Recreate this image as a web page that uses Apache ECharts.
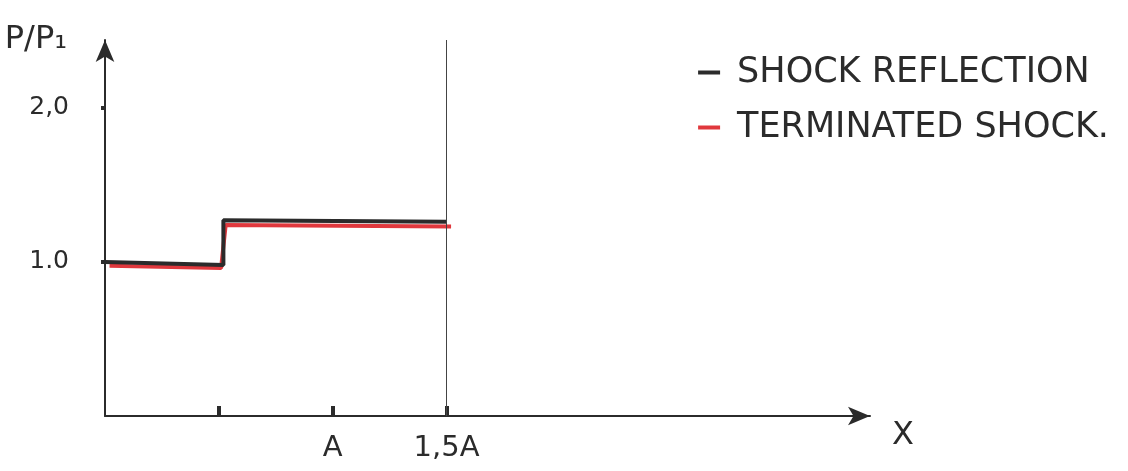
<!DOCTYPE html>
<html>
<head>
<meta charset="utf-8">
<script src="https://cdn.jsdelivr.net/npm/echarts@6/dist/echarts.min.js"></script>
<style>
html,body{margin:0;padding:0;background:#fff;}
#chart{width:1128px;height:471px;}
</style>
</head>
<body>
<div id="chart"></div>
<script>
// sketch values, x in units of A, y in P/P1
var seriesNames = ['SHOCK REFLECTION', 'TERMINATED SHOCK.'];
var reflX = [0, 0.52, 0.52, 1.5];
var reflY = [1.0, 0.98, 1.27, 1.26];
var termX = [0.02, 0.51, 0.53, 1.52];
var termY = [0.975, 0.96, 1.24, 1.23];
var xTicks = [0.5, 1, 1.5];
var xTickLabels = ['', 'A', '1,5A'];
var yTicks = [1, 2];
var yTickLabels = ['1.0', '2,0'];
var wallX = 1.5;

function pairs(xs, ys){
	var out = [];
	for(var i=0;i<xs.length;i++) out.push([xs[i], ys[i]]);
	return out;
}

var font = 'DejaVu Sans';
var ink = '#2b2b2b';
var red = '#e0383d';

var chart = echarts.init(document.getElementById('chart'));
var option = {
	backgroundColor: '#fff',
	animation: false,
	grid: {left: 105, right: 258, top: 40, bottom: 55},
	legend: {
		orient: 'vertical',
		right: 14,
		top: 50,
		itemWidth: 22,
		itemHeight: 4,
		itemGap: 20,
		icon: 'rect',
		data: seriesNames,
		textStyle: {fontFamily: font, fontSize: 35, color: ink, padding: [0,0,0,12]}
	},
	xAxis: {
		type: 'value',
		min: 0,
		max: 3.36,
		splitLine: {show: false},
		name: 'X',
		nameGap: 22,
		nameTextStyle: {fontFamily: font, fontSize: 32, color: ink, verticalAlign: 'top', padding: [4,0,0,0]},
		axisLine: {lineStyle: {color: ink, width: 2}, symbol: ['none', 'arrow'], symbolSize: [14, 22]},
		axisTick: {show: true, customValues: xTicks, inside: true, length: 10, lineStyle: {color: ink, width: 4}},
		axisLabel: {
			customValues: xTicks,
			margin: 18,
			fontFamily: font, fontSize: 29, color: ink,
			formatter: function(v){ return xTickLabels[xTicks.indexOf(v)] || ''; }
		}
	},
	yAxis: {
		type: 'value',
		min: 0,
		max: 2.44,
		splitLine: {show: false},
		name: 'P/P\u2081',
		nameGap: 0,
		nameTextStyle: {fontFamily: font, fontSize: 32, color: ink, align: 'right', verticalAlign: 'middle', padding: [0,38,0,0]},
		axisLine: {lineStyle: {color: ink, width: 2}, symbol: ['none', 'arrow'], symbolSize: [14, 22]},
		axisTick: {show: true, customValues: yTicks, length: 4, lineStyle: {color: ink, width: 4}},
		axisLabel: {
			customValues: yTicks,
			margin: 36,
			fontFamily: font, fontSize: 25, color: ink,
			formatter: function(v){ return yTickLabels[yTicks.indexOf(v)] || ''; }
		}
	},
	series: [
		{
			name: seriesNames[1],
			type: 'line',
			data: pairs(termX, termY),
			symbol: 'none',
			color: red,
			lineStyle: {color: red, width: 4},
			z: 2
		},
		{
			name: seriesNames[0],
			type: 'line',
			data: pairs(reflX, reflY),
			symbol: 'none',
			color: ink,
			lineStyle: {color: ink, width: 4},
			z: 3,
			markLine: {
				silent: true,
				symbol: 'none',
				label: {show: false},
				lineStyle: {color: '#444', width: 1, type: 'solid'},
				data: [{xAxis: wallX}]
			}
		}
	]
};
chart.setOption(option);
</script>
</body>
</html>
